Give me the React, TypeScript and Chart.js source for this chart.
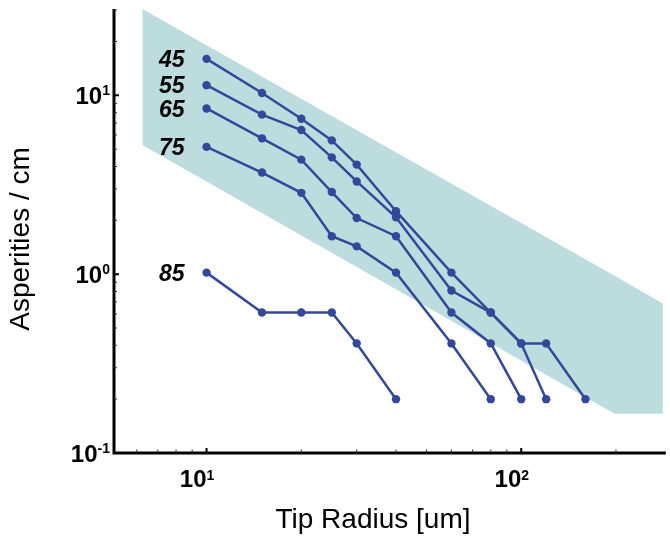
import { useEffect, useRef } from "react";
import { Chart, registerables } from "chart.js";

Chart.register(...registerables);

// Tip radius [um] and asperities per cm for each series
const x45 = [10, 15, 20, 25, 30, 40, 60, 80, 100, 120, 160];
const y45 = [16, 10.3, 7.4, 5.6, 4.1, 2.25, 1.02, 0.61, 0.41, 0.41, 0.2];
const x55 = [10, 15, 20, 25, 30, 40, 60, 80, 100, 120];
const y55 = [11.4, 7.8, 6.4, 4.5, 3.3, 2.08, 0.81, 0.61, 0.41, 0.2];
const x65 = [10, 15, 20, 25, 30, 40, 60, 80, 100];
const y65 = [8.45, 5.75, 4.37, 2.88, 2.06, 1.63, 0.61, 0.41, 0.2];
const x75 = [10, 15, 20, 25, 30, 40, 60, 80];
const y75 = [5.15, 3.7, 2.85, 1.63, 1.43, 1.02, 0.41, 0.2];
const x85 = [10, 15, 20, 25, 30, 40];
const y85 = [1.02, 0.61, 0.61, 0.61, 0.41, 0.2];

const seriesNames = ["45", "55", "65", "75", "85"];

// shaded band
const bandX = [6.25, 198, 282];
const bandUpper = [30.4, 0.98, 0.686];
const bandLower = [5.27, 0.166, 0.166];

// axes
const xMin = 5.08;
const xMax = 288;
const yMin = 0.1;
const yMax = 30.4;
const xDecadeExps = [1, 2];
const yDecadeExps = [-1, 0, 1];
const xMinorTicks = [6, 7, 8, 9, 20, 30, 40, 50, 60, 70, 80, 90, 200];
const yMinorTicks = [0.2, 0.3, 0.4, 0.5, 0.6, 0.7, 0.8, 0.9, 2, 3, 4, 5, 6, 7, 8, 9, 20, 30];

const xTitle = "Tip Radius [um]";
const yTitle = "Asperities / cm";

const LINE = "#34489b";
const BAND = "#bcdcdd";
const FONT = "'Liberation Sans', Arial, Helvetica, sans-serif";

function pts(xs: number[], ys: number[]) {
  return xs.map((x, i) => ({ x, y: ys[i] }));
}

export default function App() {
  const ref = useRef<HTMLCanvasElement | null>(null);

  useEffect(() => {
    document.body.style.margin = "0";
    const canvas = ref.current;
    if (!canvas) return;

    const series = [
      pts(x45, y45),
      pts(x55, y55),
      pts(x65, y65),
      pts(x75, y75),
      pts(x85, y85),
    ];

    const decorations = {
      id: "decorations",
      afterDatasetsDraw(chart: any) {
        const ctx = chart.ctx as CanvasRenderingContext2D;
        const xs = chart.scales.x;
        const ys = chart.scales.y;
        const area = chart.chartArea;
        ctx.save();
        ctx.fillStyle = "#000";
        ctx.strokeStyle = "#000";

        // axis lines
        ctx.lineWidth = 3;
        ctx.beginPath();
        ctx.moveTo(area.left, area.top);
        ctx.lineTo(area.left, area.bottom + 1.5);
        ctx.moveTo(area.left - 1.5, area.bottom);
        ctx.lineTo(area.right, area.bottom);
        ctx.stroke();

        // major ticks
        ctx.lineWidth = 2;
        ctx.beginPath();
        xDecadeExps.forEach((e) => {
          const px = xs.getPixelForValue(Math.pow(10, e));
          ctx.moveTo(px, area.bottom);
          ctx.lineTo(px, area.bottom - 5);
        });
        yDecadeExps.forEach((e) => {
          const v = Math.pow(10, e);
          if (v <= yMin) return;
          const py = ys.getPixelForValue(v);
          ctx.moveTo(area.left, py);
          ctx.lineTo(area.left + 5, py);
        });
        ctx.stroke();

        // minor ticks
        ctx.lineWidth = 1;
        ctx.strokeStyle = "#333";
        ctx.beginPath();
        xMinorTicks.forEach((v) => {
          const px = xs.getPixelForValue(v);
          ctx.moveTo(px, area.bottom);
          ctx.lineTo(px, area.bottom - 3.5);
        });
        yMinorTicks.forEach((v) => {
          const py = ys.getPixelForValue(v);
          ctx.moveTo(area.left, py);
          ctx.lineTo(area.left + 3, py);
        });
        ctx.stroke();

        // tick labels
        const big = `bold 24px ${FONT}`;
        const small = `bold 14px ${FONT}`;
        ctx.textBaseline = "alphabetic";
        xDecadeExps.forEach((e) => {
          const px = xs.getPixelForValue(Math.pow(10, e));
          ctx.font = big;
          ctx.textAlign = "right";
          ctx.fillText("10", px, 487);
          ctx.font = small;
          ctx.textAlign = "left";
          ctx.fillText(String(e), px, 480);
        });
        yDecadeExps.forEach((e) => {
          const py = ys.getPixelForValue(Math.pow(10, e));
          const supText = String(e);
          ctx.font = small;
          ctx.textAlign = "right";
          const sw = ctx.measureText(supText).width;
          ctx.fillText(supText, area.left - 4, py);
          ctx.font = big;
          ctx.fillText("10", area.left - 4 - sw, py + 8.5);
        });

        // axis titles
        ctx.font = `28px ${FONT}`;
        ctx.textAlign = "center";
        ctx.fillText(xTitle, 373, 528);
        ctx.save();
        ctx.translate(29, 239);
        ctx.rotate(-Math.PI / 2);
        ctx.fillText(yTitle, 0, 0);
        ctx.restore();

        // series labels
        ctx.font = `italic bold 23px ${FONT}`;
        ctx.textAlign = "right";
        series.forEach((s, i) => {
          const px = xs.getPixelForValue(s[0].x);
          const py = ys.getPixelForValue(s[0].y);
          ctx.fillText(seriesNames[i], px - 22, py + 8.3);
        });

        ctx.restore();
      },
    };

    const lineDatasets = series.map((data, i) => ({
      label: seriesNames[i],
      data,
      order: 0,
      showLine: true,
      borderColor: LINE,
      backgroundColor: LINE,
      borderWidth: 2.5,
      pointRadius: 4.2,
      pointBorderWidth: 0,
      pointBackgroundColor: LINE,
      fill: false,
      tension: 0,
    }));

    const chart = new Chart(canvas, {
      type: "scatter",
      data: {
        datasets: [
          {
            label: "bandUpper",
            data: pts(bandX, bandUpper),
            order: 10,
            showLine: true,
            borderWidth: 0,
            borderColor: "rgba(0,0,0,0)",
            pointRadius: 0,
            fill: false,
            tension: 0,
          } as any,
          {
            label: "bandLower",
            data: pts(bandX, bandLower),
            order: 10,
            showLine: true,
            borderWidth: 0,
            borderColor: "rgba(0,0,0,0)",
            backgroundColor: BAND,
            pointRadius: 0,
            fill: "-1",
            tension: 0,
          } as any,
          ...lineDatasets,
        ],
      },
      options: {
        animation: false,
        responsive: false,
        maintainAspectRatio: false,
        layout: { padding: { left: 114, top: 9, right: 0, bottom: 85 } },
        plugins: {
          legend: { display: false },
          tooltip: { enabled: false },
          filler: { propagate: false },
        },
        scales: {
          x: { type: "logarithmic", display: false, min: xMin, max: xMax },
          y: { type: "logarithmic", display: false, min: yMin, max: yMax },
        },
      },
      plugins: [decorations],
    });

    return () => chart.destroy();
  }, []);

  return (
    <div style={{ width: 670, height: 538, background: "#fff" }}>
      <canvas ref={ref} width={670} height={538} style={{ display: "block" }} />
    </div>
  );
}
